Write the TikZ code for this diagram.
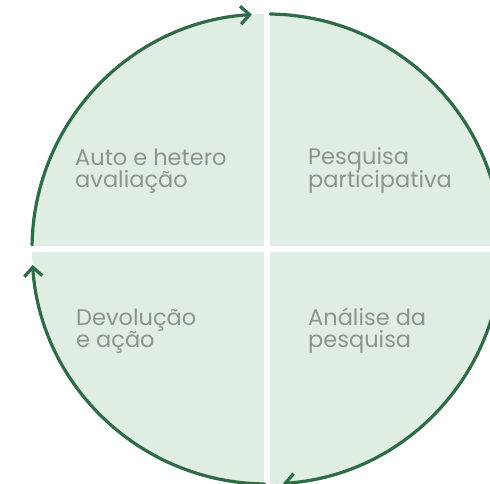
\documentclass[tikz,border=0pt]{standalone}
\usepackage{fontspec}
\setmainfont{Poppins}
\usetikzlibrary{arrows.meta,positioning}
\definecolor{leaf}{HTML}{2E6B46}
\definecolor{mint}{HTML}{E0EDE3}
\definecolor{label gray}{HTML}{8E938F}

\begin{document}
\begin{tikzpicture}
    [x=1pt, y=1pt,
    quarter/.style = {fill=mint},
    gap/.style = {draw=white, line width=5.5pt},
    cycle arc/.style = {draw=leaf, line width=3.2pt, line cap=round,
      -{Straight Barb[length=9pt, width=18pt, line width=3.2pt]}},
    phase/.style = {anchor=base west, align=left, inner sep=0pt, text=label gray,
      font=\fontsize{22.5}{22.5}\selectfont}]

    \clip (0,0) rectangle (490,484);
    \coordinate (O) at (267,235);

    % disc split in four
    \fill [quarter] (O) circle (235);
    \draw [gap] ([xshift=-240]O) -- ([xshift=240]O);
    \draw [gap] ([yshift=-240]O) -- ([yshift=240]O);

    % the cycle
    \draw [cycle arc] ([shift={(179:235)}]O) arc [start angle=179, end angle=93.7, radius=235];
    \draw [cycle arc] ([shift={(89.2:235)}]O) arc [start angle=89.2, end angle=-86.1, radius=235];
    \draw [cycle arc] ([shift={(-90.6:235)}]O) arc [start angle=-90.6, end angle=-176.1, radius=235];

    \node [phase] (Auto) at (75,296) {Auto e hetero\\avaliação};
    \node [phase] (Pesquisa) at (308,296) {Pesquisa\\participativa};
    \node [phase] (Devolucao) at (76,136) {Devolução\\e ação};
    \node [phase] (Analise) at (308,136) {Análise da\\pesquisa};
  \end{tikzpicture}
\end{document}
